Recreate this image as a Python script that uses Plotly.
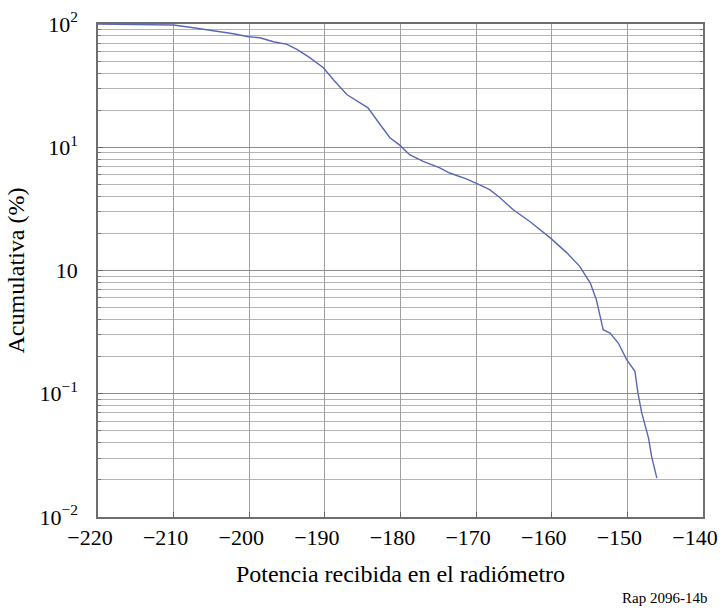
import plotly.graph_objects as go

# Cumulative distribution of received radiometer power
potencia = [-220.0, -211.8, -210.0, -207.4, -204.8, -202.1, -200.1, -198.6, -196.8,
            -195.0, -193.7, -192.0, -190.2, -188.9, -187.1, -185.4, -184.3, -182.7,
            -181.4, -180.1, -178.8, -177.0, -174.8, -173.5, -171.3, -169.9, -168.2,
            -166.8, -165.1, -162.9, -160.2, -158.0, -156.3, -154.9, -154.1, -153.6,
            -153.2, -152.3, -151.2, -150.1, -149.0, -148.6, -148.1, -147.2, -146.8,
            -146.1]
acumulativa = [100.0, 99.3, 98.1, 93.3, 88.7, 83.4, 78.9, 77.4, 71.8,
               68.3, 62.2, 53.3, 44.2, 35.5, 26.8, 23.0, 20.9, 15.3,
               11.95, 10.4, 8.7, 7.68, 6.79, 6.18, 5.53, 5.06, 4.53,
               3.88, 3.11, 2.50, 1.84, 1.39, 1.08, 0.79, 0.579, 0.425,
               0.331, 0.311, 0.258, 0.189, 0.152, 0.101, 0.070, 0.0437, 0.031,
               0.0207]

x_ticks = [-220, -210, -200, -190, -180, -170, -160, -150, -140]
x_labels = ["\u2212220", "\u2212210", "\u2212200", "\u2212190", "\u2212180",
            "\u2212170", "\u2212160", "\u2212150", "\u2212140"]
y_ticks = [0.01, 0.1, 1, 10, 100]
y_labels = ["10<sup>\u22122</sup>", "10<sup>\u22121</sup>", "10",
            "10<sup>1</sup>", "10<sup>2</sup>"]

FONT = "Liberation Serif, Times New Roman, serif"

fig = go.Figure()
fig.add_trace(go.Scatter(
    x=potencia, y=acumulativa, mode="lines",
    line=dict(color="#5868b4", width=1.4),
    showlegend=False, hoverinfo="skip",
))

fig.update_layout(
    width=724, height=608,
    margin=dict(l=98, r=21, t=24, b=91),
    paper_bgcolor="white", plot_bgcolor="white",
    font=dict(family=FONT, size=22, color="black"),
    xaxis=dict(
        range=[-220, -140], tickvals=x_ticks, ticktext=x_labels,
        automargin=False, ticklabeloverflow="allow", ticklabelshift=-8,
        showgrid=True, gridcolor="#a0a0a0", gridwidth=1,
        ticks="inside", ticklen=5, tickcolor="#666",
        showline=True, linecolor="#6e6e6e", linewidth=1.5, mirror=True,
        zeroline=False,
        tickfont=dict(family=FONT, size=22),
        title=dict(text="Potencia recibida en el radiómetro",
                   font=dict(family=FONT, size=24), standoff=16),
    ),
    yaxis=dict(
        type="log", range=[-2, 2], tickvals=y_ticks, ticktext=y_labels,
        automargin=False, ticklabeloverflow="allow",
        showgrid=True, gridcolor="#8c8c8c", gridwidth=1.2,
        ticks="inside", ticklen=5, tickcolor="#666",
        showline=True, linecolor="#6e6e6e", linewidth=1.5, mirror="ticks",
        zeroline=False,
        tickfont=dict(family=FONT, size=22),
        ticklabelstandoff=14,
        minor=dict(dtick="D1", showgrid=True, gridcolor="#b4b4b4",
                   gridwidth=1, ticks="inside", ticklen=3, tickcolor="#777"),
        title=dict(text="Acumulativa (%)",
                   font=dict(family=FONT, size=24), standoff=8),
    ),
    annotations=[dict(
        text="Rap 2096-14b", xref="paper", yref="paper",
        x=1.01, y=-0.164, xanchor="right", yanchor="middle",
        showarrow=False, font=dict(family=FONT, size=15),
    )],
)

fig.write_html("out.html")
